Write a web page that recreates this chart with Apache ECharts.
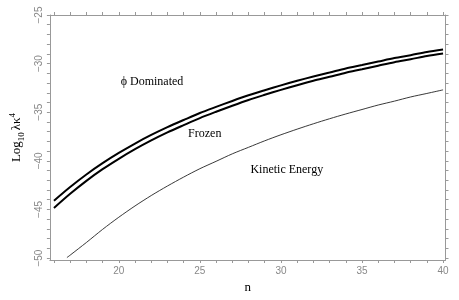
<!DOCTYPE html>
<html>
<head>
<meta charset="utf-8">
<script src="https://cdn.jsdelivr.net/npm/echarts@6/dist/echarts.min.js"></script>
<style>html,body{margin:0;padding:0;background:#fff;}#c{width:459px;height:300px;}</style>
</head>
<body>
<div id="c"></div>
<script>
const nValues = [16,17,18,19,20,21,22,23,24,25,26,27,28,29,30,31,32,33,34,35,36,37,38,39,40];
const phiDominated = [-44.10,-42.69,-41.40,-40.24,-39.19,-38.22,-37.34,-36.54,-35.80,-35.08,-34.45,-33.84,-33.26,-32.74,-32.24,-31.77,-31.33,-30.92,-30.50,-30.15,-29.79,-29.43,-29.13,-28.80,-28.55];
const frozen = [-44.85,-43.39,-42.06,-40.86,-39.79,-38.80,-37.90,-37.08,-36.33,-35.60,-34.95,-34.33,-33.74,-33.21,-32.70,-32.22,-31.77,-31.36,-30.93,-30.58,-30.21,-29.85,-29.55,-29.22,-28.97];
const kineticN = [16.8,17,18,19,20,21,22,23,24,25,26,27,28,29,30,31,32,33,34,35,36,37,38,39,40];
const kineticEnergy = [-49.95,-49.70,-48.40,-47.05,-45.80,-44.64,-43.57,-42.59,-41.67,-40.81,-40.05,-39.28,-38.61,-37.94,-37.32,-36.74,-36.19,-35.67,-35.18,-34.72,-34.26,-33.86,-33.43,-33.07,-32.70];

const xTickValues = [16,17,18,19,20,21,22,23,24,25,26,27,28,29,30,31,32,33,34,35,36,37,38,39,40];
const xLabelValues = [20,25,30,35,40];
const yTickValues = [-50,-49,-48,-47,-46,-45,-44,-43,-42,-41,-40,-39,-38,-37,-36,-35,-34,-33,-32,-31,-30,-29,-28,-27,-26,-25];
const yLabelValues = [-50,-45,-40,-35,-30,-25];

const annotationTexts = ['ϕ Dominated','Frozen','Kinetic Energy'];
const annotationN = [22.05,25.3,30.36];
const annotationV = [-31.9,-37.25,-40.95];

const xMin = 15.75, xMax = 40.15, yMin = -50.2, yMax = -25;
const frameColor = '#999';
const labelColor = '#888';

function fmt(v){ return String(v).replace('-', '\u2212'); }

const axisLineStyle = {show:true, lineStyle:{color:frameColor, width:1}};
const tickStyle = {lineStyle:{color:frameColor, width:1}, length:3, inside:false};

const chart = echarts.init(document.getElementById('c'), null, {renderer:'canvas'});
chart.setOption({
  animation:false,
  backgroundColor:'#fff',
  grid:{left:40, right:13.5, top:15, bottom:40, containLabel:false},
  xAxis:[{
    type:'value', min:xMin, max:xMax, position:'bottom',
    axisLine:axisLineStyle,
    axisTick:Object.assign({show:true, customValues:xTickValues}, tickStyle),
    axisLabel:{show:true, customValues:xLabelValues, color:labelColor, fontSize:10, fontFamily:'Liberation Sans', margin:6},
    splitLine:{show:false},
    name:'n', nameLocation:'middle', nameGap:13,
    nameTextStyle:{fontFamily:'Liberation Serif', fontSize:13, color:'#000'}
  },{
    type:'value', min:xMin, max:xMax, position:'top',
    axisLine:axisLineStyle,
    axisTick:Object.assign({show:true, customValues:xTickValues}, tickStyle),
    axisLabel:{show:false},
    splitLine:{show:false}
  }],
  yAxis:[{
    type:'value', min:yMin, max:yMax, position:'left',
    axisLine:axisLineStyle,
    axisTick:Object.assign({show:true, customValues:yTickValues}, tickStyle),
    axisLabel:{show:true, customValues:yLabelValues, rotate:90, color:labelColor, fontSize:10, fontFamily:'Liberation Sans', margin:6, formatter:fmt},
    splitLine:{show:false},
    name:'{a|Log}{b|10}{a|λκ}{c|4}', nameLocation:'middle', nameRotate:90, nameGap:14,
    nameTextStyle:{
      color:'#000',
      rich:{
        a:{fontFamily:'Liberation Serif', fontSize:13, lineHeight:18, color:'#000'},
        b:{fontFamily:'Liberation Serif', fontSize:9, lineHeight:9, verticalAlign:'bottom', color:'#000', padding:[0,2,0,0]},
        c:{fontFamily:'Liberation Serif', fontSize:9, lineHeight:9, verticalAlign:'top', color:'#000'}
      }
    }
  },{
    type:'value', min:yMin, max:yMax, position:'right',
    axisLine:axisLineStyle,
    axisTick:Object.assign({show:true, customValues:yTickValues}, tickStyle),
    axisLabel:{show:false},
    splitLine:{show:false}
  }],
  series:[{
    name:'ϕ Dominated', type:'line', xAxisIndex:0, yAxisIndex:0,
    data:nValues.map((n,i)=>[n, phiDominated[i]]),
    showSymbol:false, smooth:0.3, lineStyle:{color:'#000', width:2}
  },{
    name:'Frozen', type:'line', xAxisIndex:0, yAxisIndex:0,
    data:nValues.map((n,i)=>[n, frozen[i]]),
    showSymbol:false, smooth:0.3, lineStyle:{color:'#000', width:2}
  },{
    name:'Kinetic Energy', type:'line', xAxisIndex:0, yAxisIndex:0,
    data:kineticN.map((n,i)=>[n, kineticEnergy[i]]),
    showSymbol:false, smooth:0.3, lineStyle:{color:'#222', width:0.9}
  },{
    name:'labels', type:'scatter', xAxisIndex:0, yAxisIndex:0,
    symbolSize:0, silent:true, itemStyle:{opacity:1},
    data:annotationTexts.map((t,i)=>({value:[annotationN[i], annotationV[i]], name:t})),
    label:{show:true, position:'inside', formatter:p=>p.name, color:'#000', opacity:1, fontFamily:'Liberation Serif', fontSize:12}
  }]
});
</script>
</body>
</html>
